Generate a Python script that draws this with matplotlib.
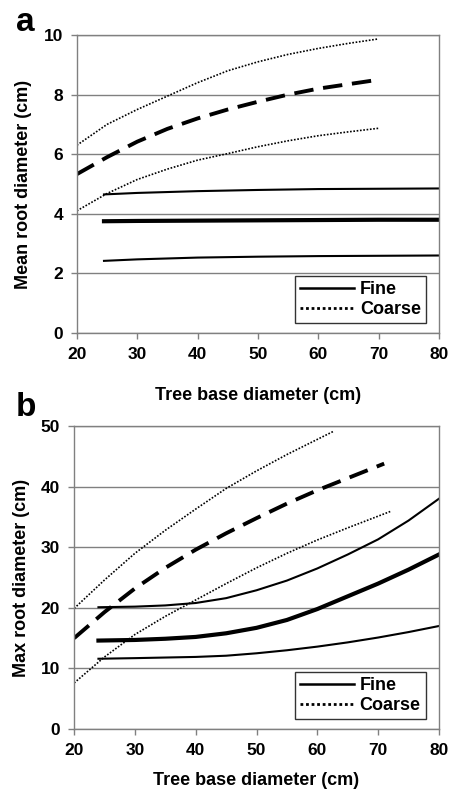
import matplotlib.pyplot as plt
from matplotlib.lines import Line2D

plt.rcParams["font.family"] = ["Liberation Sans", "DejaVu Sans"]
plt.rcParams["font.weight"] = "bold"

# ----------------------------------
# DATA
# ----------------------------------
# panel a - mean root diameter
a_coarse_x = [20, 25, 30, 35, 40, 45, 50, 55, 60, 65, 70]
a_coarse_hi = [6.3, 7.0, 7.5, 7.95, 8.4, 8.8, 9.1, 9.35, 9.55, 9.72, 9.87]
a_coarse_mid = [5.33, 5.9, 6.42, 6.85, 7.2, 7.5, 7.76, 8.0, 8.2, 8.35, 8.5]
a_coarse_lo = [4.1, 4.68, 5.15, 5.5, 5.8, 6.02, 6.25, 6.45, 6.62, 6.75, 6.87]

a_fine_x = [24.5, 30, 40, 50, 60, 70, 80]
a_fine_hi = [4.65, 4.7, 4.76, 4.8, 4.83, 4.84, 4.85]
a_fine_mid = [3.75, 3.76, 3.77, 3.78, 3.79, 3.8, 3.8]
a_fine_lo = [2.42, 2.47, 2.53, 2.56, 2.58, 2.59, 2.6]

# panel b - max root diameter
b_coarse_hi_x = [20, 25, 30, 35, 40, 45, 50, 55, 60, 62.6]
b_coarse_hi = [19.9, 24.6, 29.0, 32.8, 36.3, 39.7, 42.6, 45.3, 47.8, 49.1]
b_coarse_mid_x = [20, 25, 30, 35, 40, 45, 50, 55, 60, 65, 71]
b_coarse_mid = [15.0, 19.3, 23.2, 26.6, 29.6, 32.3, 34.8, 37.2, 39.4, 41.4, 43.8]
b_coarse_lo_x = [20, 25, 30, 35, 40, 45, 50, 55, 60, 65, 72]
b_coarse_lo = [7.6, 11.9, 15.6, 18.6, 21.3, 24.0, 26.6, 29.0, 31.2, 33.2, 35.9]

b_fine_x = [24, 30, 35, 40, 45, 50, 55, 60, 65, 70, 75, 80]
b_fine_hi = [20.1, 20.2, 20.4, 20.8, 21.6, 22.9, 24.5, 26.5, 28.8, 31.3, 34.4, 38.0]
b_fine_mid = [14.6, 14.7, 14.9, 15.2, 15.8, 16.7, 18.0, 19.8, 21.9, 24.0, 26.3, 28.8]
b_fine_lo = [11.6, 11.7, 11.8, 11.9, 12.1, 12.5, 13.0, 13.6, 14.3, 15.1, 16.0, 17.0]

GRAY = "#808080"

fig = plt.figure(figsize=(4.52, 7.89), dpi=100)
ax_a = fig.add_axes([0.170, 0.578, 0.801, 0.3776])
ax_b = fig.add_axes([0.164, 0.076, 0.807, 0.384])


def style_axes(ax, ymax, ystep, ylabel, xpad):
    ax.set_xlim(20, 80)
    ax.set_ylim(0, ymax)
    ax.set_xticks(range(20, 81, 10))
    ax.set_yticks(range(0, ymax + 1, ystep))
    ax.yaxis.grid(True, color=GRAY, linewidth=1)
    ax.set_axisbelow(True)
    for s in ax.spines.values():
        s.set_color(GRAY)
        s.set_linewidth(1)
    ax.tick_params(direction="out", color=GRAY, length=4, width=1,
                   labelsize=12.5, pad=6)
    ax.set_xlabel("Tree base diameter (cm)", fontsize=13,
                  fontweight="bold", labelpad=xpad)
    ax.set_ylabel(ylabel, fontsize=13, fontweight="bold", labelpad=8)
    handles = [Line2D([], [], color="black", lw=1.8, ls="-"),
               Line2D([], [], color="black", lw=2.0, ls=(0, (1, 1)))]
    leg = ax.legend(handles, ["Fine", "Coarse"], loc="lower right",
                    bbox_to_anchor=(0.975, 0.02), fontsize=13,
                    frameon=True, fancybox=False, handlelength=3.0,
                    borderpad=0.3, labelspacing=0.15, handletextpad=0.3,
                    borderaxespad=0.2)
    leg.get_frame().set_edgecolor("black")
    leg.get_frame().set_linewidth(1)


# ----------------------------------
# PANEL A
# ----------------------------------
ax_a.plot(a_coarse_x, a_coarse_hi, color="black", lw=1.2, ls=(0, (1, 1)))
ax_a.plot(a_coarse_x, a_coarse_mid, color="black", lw=2.8, ls=(0, (5, 2.5)))
ax_a.plot(a_coarse_x, a_coarse_lo, color="black", lw=1.2, ls=(0, (1, 1)))
ax_a.plot(a_fine_x, a_fine_hi, color="black", lw=1.5)
ax_a.plot(a_fine_x, a_fine_mid, color="black", lw=3.0)
ax_a.plot(a_fine_x, a_fine_lo, color="black", lw=1.5)
style_axes(ax_a, 10, 2, "Mean root diameter (cm)", 18)

# ----------------------------------
# PANEL B
# ----------------------------------
ax_b.plot(b_coarse_hi_x, b_coarse_hi, color="black", lw=1.2, ls=(0, (1, 1)))
ax_b.plot(b_coarse_mid_x, b_coarse_mid, color="black", lw=2.8, ls=(0, (5, 2.5)))
ax_b.plot(b_coarse_lo_x, b_coarse_lo, color="black", lw=1.2, ls=(0, (1, 1)))
ax_b.plot(b_fine_x, b_fine_hi, color="black", lw=1.5)
ax_b.plot(b_fine_x, b_fine_mid, color="black", lw=3.0)
ax_b.plot(b_fine_x, b_fine_lo, color="black", lw=1.5)
style_axes(ax_b, 50, 10, "Max root diameter (cm)", 10)

fig.text(0.035, 0.972, "a", fontsize=24, fontweight="bold", va="center")
fig.text(0.035, 0.483, "b", fontsize=24, fontweight="bold", va="center")

plt.savefig("out.png", dpi=100)
